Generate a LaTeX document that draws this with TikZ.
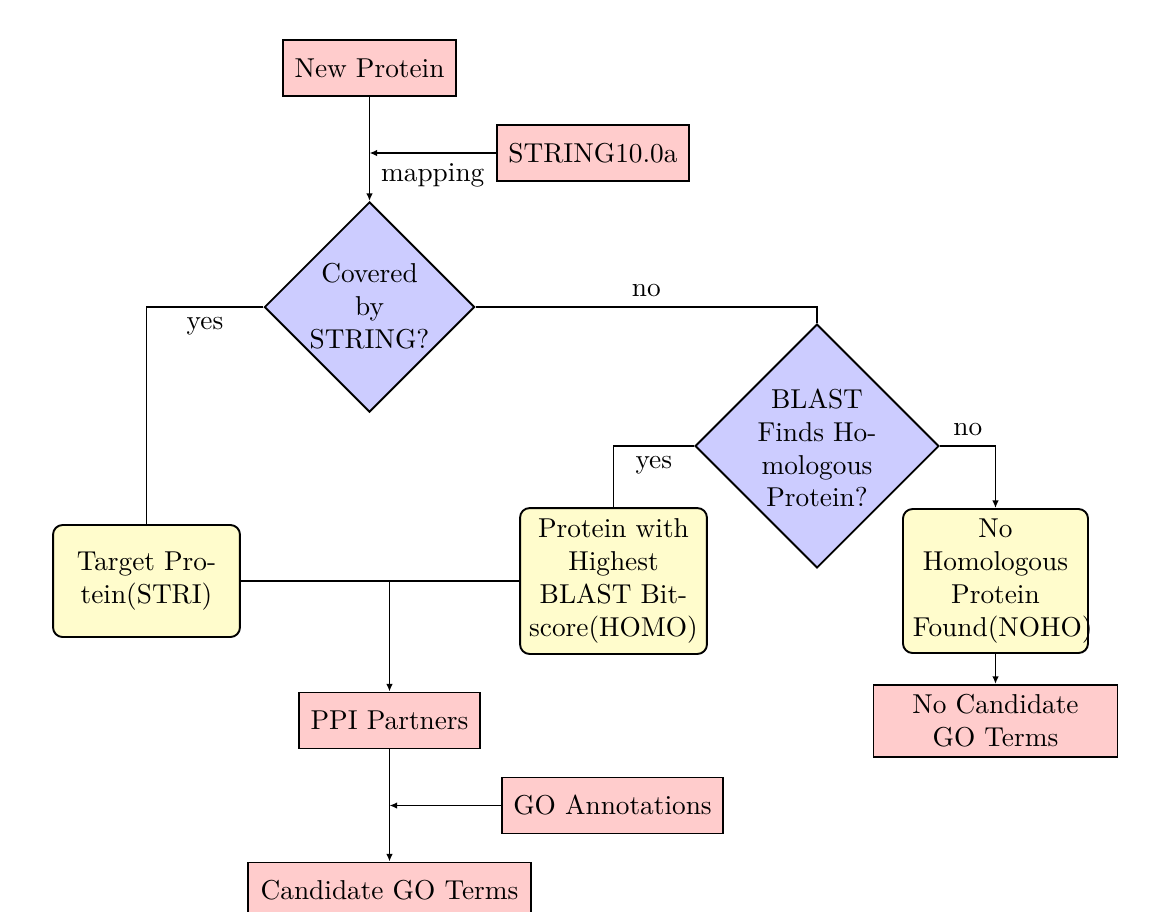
\documentclass[tikz,border=0pt]{standalone}
\usetikzlibrary{shapes.geometric,arrows.meta}
\tikzset{
  pinkbox/.style={draw, line width=0.7pt, fill=red!20, inner sep=0pt, minimum height=20.5pt, align=center},
  ybox/.style={draw, line width=0.7pt, fill=yellow!20, rounded corners=3.5pt, align=center, inner sep=0pt},
  dec/.style={draw, line width=0.7pt, fill=blue!20, diamond, inner sep=0pt},
  conn/.style={line width=0.7pt},
  arr/.style={conn, -{Latex[length=2.8pt,width=2.4pt]}},
}
\begin{document}
\begin{tikzpicture}[x=0.366pt, y=-0.366pt]
\useasboundingbox (0,0) rectangle (1164,911);
\clip (0,0) rectangle (1164,911);
% nodes
\node[pinkbox, minimum width=63.3pt] (np) at (369.5,68) {New Protein};
\node[pinkbox, minimum width=70.3pt] (str) at (593,153) {STRING10.0a};
\node[dec, minimum width=76.9pt, minimum height=76.9pt] (d1) at (369.5,307) {};
\node[align=center, inner sep=0pt] (d1t) at (369.5,306) {Covered\\by\\STRING?};
\node[dec, minimum width=89.3pt, minimum height=89.3pt] (d2) at (817,446) {};
\node[align=center, inner sep=0pt] (d2t) at (817,448) {BLAST\\Finds Ho-\\mologous\\Protein?};
\node[ybox, minimum width=68.4pt, minimum height=41pt] (tgt) at (146.5,581) {Target Pro-\\tein(STRI)};
\node[ybox, minimum width=68.4pt, minimum height=53.4pt] (homo) at (613.5,581) {Protein with\\Highest\\BLAST Bit-\\score(HOMO)};
\node[ybox, text width=60.4pt, inner xsep=3.66pt, minimum height=52.7pt] (noho) at (995.5,581) {No\\Homologous\\Protein\\Found(NOHO)};
\node[pinkbox, minimum width=66.2pt] (ppi) at (389.5,720.5) {PPI Partners};
\node[pinkbox, minimum width=80.9pt] (go) at (612.5,805.5) {GO Annotations};
\node[pinkbox, minimum width=89.3pt, minimum height=26.4pt] (nocand) at (995.5,721) {No Candidate\\GO Terms};
\node[pinkbox, minimum width=103.6pt] (cand) at (389.5,890.5) {Candidate GO Terms};
% connectors
\draw[arr] (np.south) -- (d1.north);
\draw[arr] (str.west) -- node[below] (lmap) {mapping} (np.south |- str.west);
\draw[conn] (d1.west) -- node[below] (lyes1) {yes} (d1.west -| tgt.north) -- (tgt.north);
\draw[conn] (d1.east) -- node[above] (lno1) {no} (d1.east -| d2.north) -- (d2.north);
\draw[conn] (d2.west) -- node[below] (lyes2) {yes} (d2.west -| homo.north) -- (homo.north);
\draw[arr] (d2.east) -- node[above] (lno2) {no} (d2.east -| noho.north) -- (noho.north);
\draw[conn] (tgt.east) -- (homo.west);
\coordinate (j) at (tgt.east -| ppi.north);
\draw[arr] (j) -- (ppi.north);
\draw[arr] (ppi.south) -- (cand.north);
\draw[arr] (go.west) -- (ppi.south |- go.west);
\draw[arr] (noho.south) -- (nocand.north);
\end{tikzpicture}
\end{document}
